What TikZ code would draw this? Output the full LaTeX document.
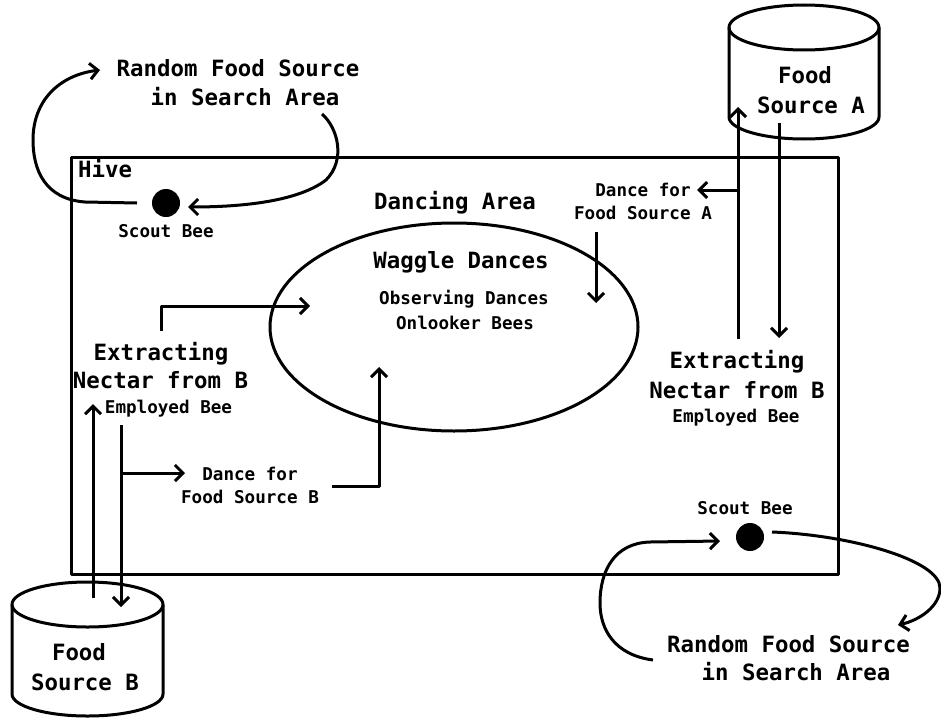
\documentclass[tikz,border=0pt]{standalone}
\usepackage{fontspec}
\setmonofont{DejaVu Sans Mono}
\usetikzlibrary{arrows.meta,shapes.geometric}
\newcommand\txtlarge{\fontsize{22.4}{29}\selectfont\ttfamily\bfseries}
\newcommand\txtsmall{\fontsize{17.6}{23}\selectfont\ttfamily\bfseries}
\tikzset{
  lbl/.style={font=\txtlarge, anchor=base, inner sep=0pt},
  sml/.style={font=\txtsmall, anchor=base, inner sep=0pt},
  edge/.style={line width=3pt},
  flow/.style={edge, -{Straight Barb[length=8pt,width=16pt]}},
  bee/.style={circle, fill=black, minimum size=28pt, inner sep=0pt},
}
\begin{document}
\begin{tikzpicture}[x=1pt, y=-1pt, line join=round]
\useasboundingbox (0,0) rectangle (941,717);

% hive and dancing area
\node[draw, edge, rectangle, anchor=north west, inner sep=0pt,
      minimum width=767pt, minimum height=417pt] (hive) at (70,156) {};
\node[lbl, anchor=base west] (hivelbl) at (78,177) {Hive};
\node[draw, edge, ellipse, inner sep=0pt,
      minimum width=368pt, minimum height=208pt] (dance) at (454,327) {};
\node[lbl] (dancelbl) at (455,209) {Dancing Area};
\node[lbl] (waggle) at (461,268) {Waggle Dances};
\node[sml] (observe) at (464,304) {Observing Dances};
\node[sml] (onlook) at (465,329) {Onlooker Bees};

% food sources (cylinders)
\draw[edge] (729,27.5) -- (729,117) arc[start angle=180, end angle=0, x radius=75, y radius=22] -- (879,27.5);
\draw[edge] (804,27.5) ellipse [x radius=75, y radius=22.5];
\node[lbl] (srcA1) at (805,83) {Food};
\node[lbl] (srcA2) at (811,113) {Source A};

\draw[edge] (12,604.5) -- (12,694) arc[start angle=180, end angle=0, x radius=75.5, y radius=22] -- (163,604.5);
\draw[edge] (87.5,604.5) ellipse [x radius=75.5, y radius=22.5];
\node[lbl] (srcB1) at (79,660) {Food};
\node[lbl] (srcB2) at (85,690) {Source B};

% scout bees
\node[bee] (scoutN) at (166,203) {};
\node[sml] (scoutNlbl) at (166,237) {Scout Bee};
\node[bee] (scoutS) at (750,537) {};
\node[sml] (scoutSlbl) at (745,514) {Scout Bee};

% random search areas
\node[lbl] (randN1) at (238,76) {Random Food Source};
\node[lbl] (randN2) at (245,105) {in Search Area};
\node[lbl] (randS1) at (788.5,652) {Random Food Source};
\node[lbl] (randS2) at (796,680) {in Search Area};

% employed bees
\node[lbl] (extL1) at (161,360) {Extracting};
\node[lbl] (extL2) at (160.5,388) {Nectar from B};
\node[sml] (empL) at (168.5,413) {Employed Bee};
\node[lbl] (extR1) at (737,368) {Extracting};
\node[lbl] (extR2) at (737,398) {Nectar from B};
\node[sml] (empR) at (736,422) {Employed Bee};

% dance labels
\node[sml] (danceA1) at (643,196) {Dance for};
\node[sml] (danceA2) at (643,219) {Food Source A};
\node[sml] (danceB1) at (250,480) {Dance for};
\node[sml] (danceB2) at (250,503) {Food Source B};

% connector end points
\coordinate (nOut) at (137,203);
\coordinate (nTo) at (100,70);
\coordinate (nFrom) at (322,114);
\coordinate (nIn) at (188,207);
\coordinate (sOut) at (772,532);
\coordinate (sTo) at (898,625);
\coordinate (sFrom) at (653,660);
\coordinate (sIn) at (720,541);
\coordinate (rUp0) at (738,339);
\coordinate (rUp1) at (738,107);
\coordinate (rBr) at (738,190);
\coordinate (rBrEnd) at (697,190);
\coordinate (rDn0) at (779,123);
\coordinate (rDn1) at (779,338);
\coordinate (aDn0) at (596,232);
\coordinate (aDn1) at (596,303);
\coordinate (lUp0) at (161,331);
\coordinate (lUp1) at (310,306);
\coordinate (bUp0) at (93,598);
\coordinate (bUp1) at (93,404);
\coordinate (bDn0) at (121,425);
\coordinate (bDn1) at (121,607);
\coordinate (bBr) at (121,473);
\coordinate (bBrEnd) at (185,473);
\coordinate (dB0) at (332,486);
\coordinate (dB1) at (379,367);

% scout loops
\draw[flow] (nOut) -- (85,202) .. controls (45,199) and (33,170) .. (33,140)
  .. controls (33,100) and (60,75) .. (nTo);
\draw[flow] (nFrom) .. controls (338,128) and (346,160) .. (326,180)
  .. controls (296,203) and (235,207) .. (nIn);
\draw[flow] (sOut) .. controls (850,535) and (940,560) .. (940,588)
  .. controls (940,606) and (920,620) .. (sTo);
\draw[flow] (sFrom) .. controls (615,655) and (600,630) .. (600,603)
  .. controls (600,570) and (615,543) .. (650,542) -- (sIn);

% employed bee flows
\draw[flow] (rUp0) -- (rUp1);
\draw[flow] (rBr) -- (rBrEnd);
\draw[flow] (rDn0) -- (rDn1);
\draw[flow] (aDn0) -- (aDn1);
\draw[flow] (lUp0) |- (lUp1);
\draw[flow] (bUp0) -- (bUp1);
\draw[flow] (bDn0) -- (bDn1);
\draw[flow] (bBr) -- (bBrEnd);
\draw[flow] (dB0) -| (dB1);
\end{tikzpicture}
\end{document}
